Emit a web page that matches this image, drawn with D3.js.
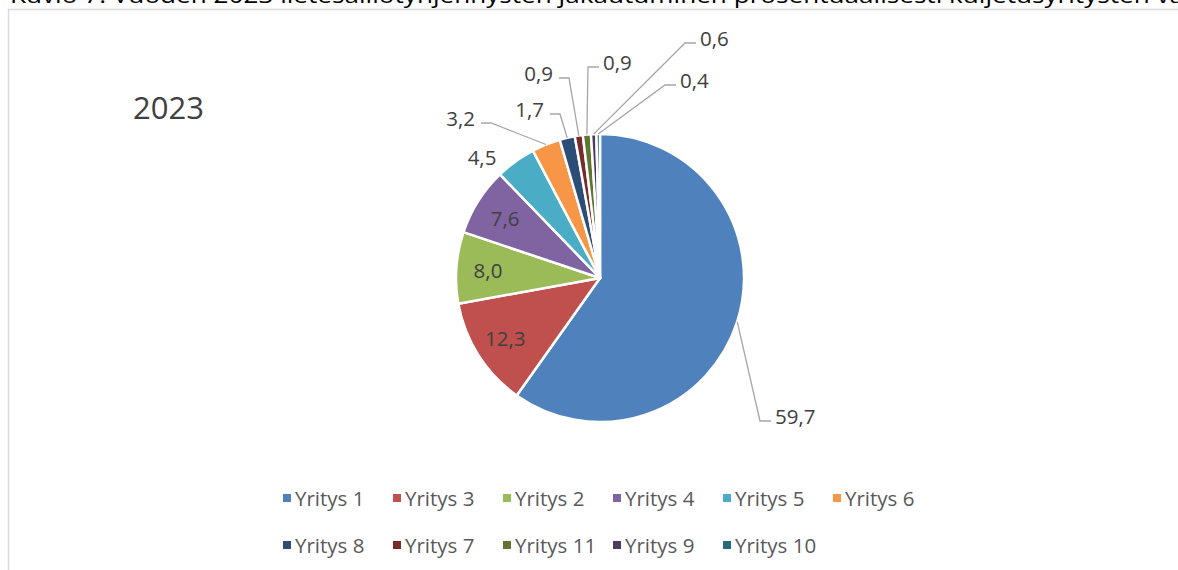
<!DOCTYPE html>
<html>
<head>
<meta charset="utf-8">
<script src="https://cdn.jsdelivr.net/npm/d3@7"></script>
<style>
  html, body { margin: 0; padding: 0; background: #fff; overflow: hidden; }
  svg { display: block; }
</style>
</head>
<body>
<svg id="chart" width="1178" height="570"></svg>
<script>
// ---- data ----
const categories = ["Yritys 1", "Yritys 3", "Yritys 2", "Yritys 4", "Yritys 5", "Yritys 6",
                    "Yritys 8", "Yritys 7", "Yritys 11", "Yritys 9", "Yritys 10"];
const values = [59.7, 12.3, 8.0, 7.6, 4.5, 3.2, 1.7, 0.9, 0.9, 0.6, 0.4];
const chartTitle = "2023";
const caption = "Kuvio 7. Vuoden 2023 lietesäiliötyhjennysten jakautuminen prosentuaalisesti kuljetusyritysten välillä";

// ---- styles / layout ----
const colors = ["#4F81BD", "#C0504D", "#9BBB59", "#8064A2", "#4BACC6", "#F79646",
                "#2C4D75", "#772C2A", "#5F7530", "#4D3B62", "#276A7C"];
const FONT = "'Open Sans', 'Liberation Sans', sans-serif";
const LABEL_SIZE = 20.5;
const cx = 600, cy = 278, R = 144;
// label placement (layout only); "in" = at slice centroid
const labelLayout = [
  {x: 775, y: 416, anchor: "start", lead: "left"},
  {mode: "in"},
  {mode: "in"},
  {mode: "in"},
  {x: 482, y: 157, anchor: "middle", lead: "none"},
  {x: 475, y: 118, anchor: "end", lead: "right"},
  {x: 544, y: 109, anchor: "end", lead: "right"},
  {x: 553, y: 73, anchor: "end", lead: "right"},
  {x: 603, y: 62, anchor: "start", lead: "left"},
  {x: 700, y: 38, anchor: "start", lead: "left"},
  {x: 680, y: 80, anchor: "start", lead: "left"}
];

const svg = d3.select("#chart");

// caption (clipped at top, as in the source)
svg.append("text")
  .attr("x", 10).attr("y", 3)
  .attr("font-family", FONT).attr("font-size", 21)
  .attr("textLength", 1215).attr("lengthAdjust", "spacingAndGlyphs")
  .attr("fill", "#000")
  .text(caption);

// chart frame
svg.append("rect")
  .attr("x", 8.5).attr("y", 9.5)
  .attr("width", 1300).attr("height", 700)
  .attr("fill", "#fff").attr("stroke", "#D9D9D9").attr("stroke-width", 1.5);

// title
svg.append("text")
  .attr("x", 133).attr("y", 107)
  .attr("dominant-baseline", "central")
  .attr("font-family", FONT).attr("font-size", 31)
  .attr("fill", "#404040")
  .text(chartTitle);

const data = categories.map((c, i) => ({name: c, value: values[i], color: colors[i], layout: labelLayout[i]}));
const pie = d3.pie().sort(null).value(d => d.value);
const arcs = pie(data);
const arc = d3.arc().innerRadius(0).outerRadius(R);
const edgeArc = d3.arc().innerRadius(R).outerRadius(R);
const labelArc = d3.arc().innerRadius(R * 0.78).outerRadius(R * 0.78);

const g = svg.append("g").attr("transform", `translate(${cx},${cy})`);
g.selectAll("path.slice").data(arcs).join("path")
  .attr("class", "slice")
  .attr("d", arc)
  .attr("fill", d => d.data.color)
  .attr("stroke", "#fff").attr("stroke-width", 2.5).attr("stroke-linejoin", "round");

const fmt = v => d3.format(".1f")(v).replace(".", ",");

// labels
arcs.forEach(d => {
  const L = d.data.layout;
  if (L.mode === "in") {
    const [x, y] = labelArc.centroid(d);
    g.append("text")
      .attr("x", x).attr("y", y)
      .attr("text-anchor", "middle").attr("dominant-baseline", "central")
      .attr("font-family", FONT).attr("font-size", LABEL_SIZE).attr("fill", "#404040")
      .text(fmt(d.data.value));
    return;
  }
  const t = svg.append("text")
    .attr("x", L.x).attr("y", L.y)
    .attr("text-anchor", L.anchor).attr("dominant-baseline", "central")
    .attr("font-family", FONT).attr("font-size", LABEL_SIZE).attr("fill", "#404040")
    .text(fmt(d.data.value));
  if (L.lead !== "none") {
    const bb = t.node().getBBox();
    const [ex, ey] = edgeArc.centroid(d);
    const ly = L.y + 5;
    let p0x, p1x;
    if (L.lead === "left") { p0x = bb.x - 4; p1x = p0x - 11; }
    else { p0x = bb.x + bb.width + 6; p1x = p0x + 10; }
    svg.append("polyline")
      .attr("points", `${p0x},${ly} ${p1x},${ly} ${cx + ex},${cy + ey}`)
      .attr("fill", "none").attr("stroke", "#A6A6A6").attr("stroke-width", 1.3);
  }
});

// legend
const legendX0 = 283, colW = 110, rowY = [498, 545];
const lg = svg.append("g");
data.forEach((d, i) => {
  const row = Math.floor(i / 6), col = i % 6;
  const x = legendX0 + col * colW, y = rowY[row];
  lg.append("rect").attr("x", x).attr("y", y - 4).attr("width", 8).attr("height", 8).attr("fill", d.color);
  lg.append("text").attr("x", x + 12).attr("y", y)
    .attr("dominant-baseline", "central")
    .attr("font-family", FONT).attr("font-size", 20.5).attr("fill", "#595959")
    .text(d.name);
});
</script>
</body>
</html>
